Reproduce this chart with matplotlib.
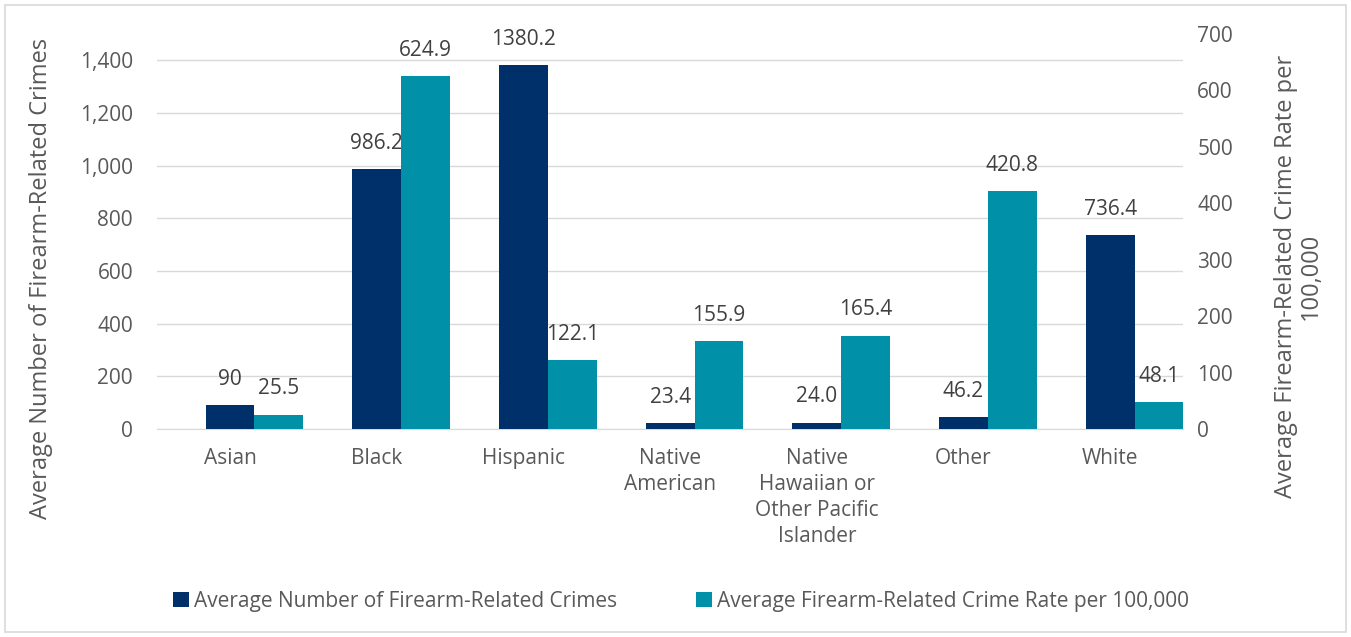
import numpy as np
import matplotlib.pyplot as plt
from matplotlib.patches import Rectangle
from matplotlib.ticker import FuncFormatter

# values
groups = ["Asian", "Black", "Hispanic", "Native\nAmerican",
          "Native\nHawaiian or\nOther Pacific\nIslander", "Other", "White"]
crimes_avg = [90, 986.2, 1380.2, 23.4, 24.0, 46.2, 736.4]
crimes_lbl = ["90", "986.2", "1380.2", "23.4", "24.0", "46.2", "736.4"]
rate_avg = [25.5, 624.9, 122.1, 155.9, 165.4, 420.8, 48.1]

NAVY = "#003069"
TEAL = "#0090A7"
GREY = "#595959"

plt.rcParams["font.family"] = ["Open Sans", "DejaVu Sans"]

fig = plt.figure(figsize=(13.51, 6.37), dpi=100)
ax = fig.add_axes([0.116, 0.3265, 0.760, 0.6205])
ax2 = ax.twinx()

x = np.arange(len(groups))
w = 0.333
# navy bar sits on the category centre, teal bar right beside it
b1 = ax.bar(x, crimes_avg, width=w, color=NAVY, zorder=3,
            label="Average Number of Firearm-Related Crimes")
b2 = ax2.bar(x + w, rate_avg, width=w, color=TEAL, zorder=3,
             label="Average Firearm-Related Crime Rate per 100,000")

ax.set_xlim(-0.5, len(groups) - 0.5)
ax.set_ylim(0, 1500)
ax.set_yticks(range(0, 1401, 200))
ax.yaxis.set_major_formatter(FuncFormatter(lambda v, p: f"{int(v):,}"))
ax2.set_ylim(0, 700)
ax2.set_yticks(range(0, 701, 100))

ax.grid(axis="y", color="#D9D9D9", linewidth=1, zorder=0)
for a in (ax, ax2):
    for s in a.spines.values():
        s.set_visible(False)
    a.tick_params(length=0, labelsize=15, labelcolor=GREY)
ax.spines["bottom"].set_visible(True)
ax.spines["bottom"].set_color("#D9D9D9")
ax.tick_params(axis="y", pad=17)
ax2.tick_params(axis="y", pad=10)

ax.set_xticks(x)
ax.set_xticklabels(groups, fontsize=15, color=GREY, linespacing=1.3)
ax.tick_params(axis="x", pad=14)

for rect, txt in zip(b1, crimes_lbl):
    ax.annotate(txt, (rect.get_x() + rect.get_width() / 2, rect.get_height()),
                xytext=(0, 11), textcoords="offset points", ha="center",
                va="bottom", fontsize=15, color="#404040", zorder=5)
for rect, v in zip(b2, rate_avg):
    ax2.annotate(f"{v:.1f}", (rect.get_x() + rect.get_width() / 2, rect.get_height()),
                 xytext=(0, 11), textcoords="offset points", ha="center",
                 va="bottom", fontsize=15, color="#404040", zorder=5)

fig.text(0.030, 0.563, "Average Number of Firearm-Related Crimes", rotation=90,
         ha="center", va="center", fontsize=17, color=GREY)
fig.text(0.961, 0.566, "Average Firearm-Related Crime Rate per\n100,000",
         rotation=90, ha="center", va="center", fontsize=17, color=GREY,
         multialignment="center", linespacing=1.05)

h1, l1 = ax.get_legend_handles_labels()
h2, l2 = ax2.get_legend_handles_labels()
fig.legend(h1 + h2, l1 + l2, loc="center", bbox_to_anchor=(0.504, 0.056),
           ncol=2, frameon=False, handlelength=0.75, handleheight=0.75,
           handletextpad=0.25, columnspacing=3.8, labelcolor=GREY,
           fontsize=15)

fig.patches.append(Rectangle((0.004, 0.008), 0.992, 0.984, transform=fig.transFigure,
                             fill=False, edgecolor="#D9D9D9", linewidth=1.2))

fig.savefig("out.png", dpi=100)
